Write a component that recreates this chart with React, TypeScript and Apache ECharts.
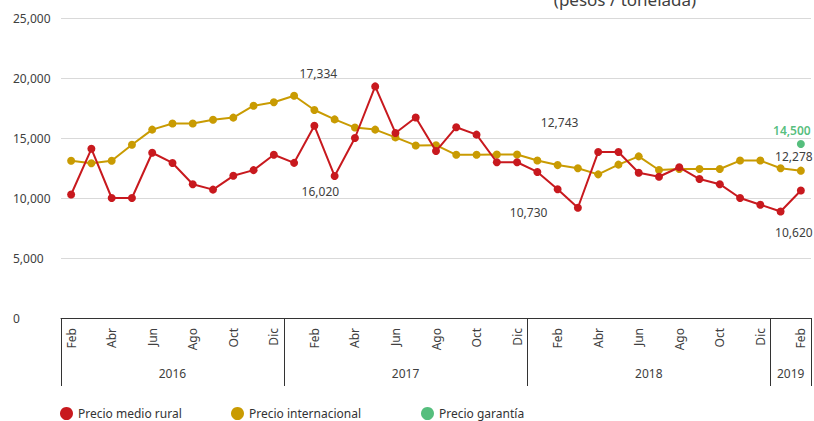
import React, { useEffect, useRef } from "react";
import * as echarts from "echarts";

// Feb 2016 .. Feb 2019
const categories: string[] = [
  "2016-Feb", "2016-Mar", "2016-Abr", "2016-May", "2016-Jun", "2016-Jul", "2016-Ago", "2016-Sep", "2016-Oct", "2016-Nov", "2016-Dic",
  "2017-Ene", "2017-Feb", "2017-Mar", "2017-Abr", "2017-May", "2017-Jun", "2017-Jul", "2017-Ago", "2017-Sep", "2017-Oct", "2017-Nov", "2017-Dic",
  "2018-Ene", "2018-Feb", "2018-Mar", "2018-Abr", "2018-May", "2018-Jun", "2018-Jul", "2018-Ago", "2018-Sep", "2018-Oct", "2018-Nov", "2018-Dic",
  "2019-Ene", "2019-Feb",
];

const years = ["2016", "2017", "2018", "2019"];

const precioMedioRural: number[] = [
  10290, 14100, 10000, 10000, 13770, 12920, 11150, 10700, 11850, 12320, 13600,
  12930, 16020, 11830, 15000, 19300, 15420, 16710, 13910, 15900, 15280, 12980, 12980,
  12170, 10730, 9190, 13830, 13830, 12100, 11770, 12560, 11580, 11150, 10000, 9440,
  8880, 10620,
];

const precioInternacional: number[] = [
  13100, 12900, 13100, 14440, 15700, 16210, 16210, 16520, 16700, 17690, 17980,
  18520, 17334, 16550, 15870, 15700, 15050, 14380, 14400, 13600, 13600, 13620, 13620,
  13120, 12743, 12480, 11970, 12780, 13470, 12330, 12420, 12420, 12420, 13120, 13120,
  12480, 12278,
];

const precioGarantia: (number | null)[] = categories.map((c) => (c === "2019-Feb" ? 14500 : null));

const yTicks = { min: 0, max: 25000, interval: 5000 };

const RED = "#C8191E";
const YELLOW = "#C99B02";
const GREEN = "#2BAE5C";
const TEXT = "#404040";
const FONT = "'Noto Sans', sans-serif";

const fmt = (v: number) => v.toLocaleString("en-US");

type LabelSpec = { cat: string; offset: [number, number] };
const redLabels: LabelSpec[] = [
  { cat: "2017-Feb", offset: [6, 66] },
  { cat: "2018-Feb", offset: [-29, 23] },
  { cat: "2019-Feb", offset: [-7, 42] },
];
const yellowLabels: LabelSpec[] = [
  { cat: "2017-Feb", offset: [4, -36] },
  { cat: "2018-Feb", offset: [2, -43] },
  { cat: "2019-Feb", offset: [-7, -14] },
];

function withLabels(values: number[], specs: LabelSpec[], color: string) {
  return values.map((v, i) => {
    const spec = specs.find((s) => s.cat === categories[i]);
    if (!spec) return v;
    return {
      value: v,
      label: {
        show: true,
        position: "inside",
        offset: spec.offset,
        formatter: (p: any) => fmt(p.value),
        color,
        fontSize: 12,
        fontFamily: FONT,
      },
    };
  });
}

export default function App() {
  const ref = useRef<HTMLDivElement>(null);

  useEffect(() => {
    if (!ref.current) return;
    const chart = echarts.init(ref.current, undefined, { renderer: "svg" });

    const yearStart = (i: number) => i === 0 || categories[i].slice(0, 4) !== categories[i - 1].slice(0, 4);

    const legendBase = {
      top: 407,
      padding: 0,
      icon: "circle",
      itemWidth: 13,
      itemHeight: 13,
      itemGap: 4,
      textStyle: { color: "#333", fontSize: 12, fontFamily: FONT },
    };

    const option: any = {
      animation: false,
      textStyle: { fontFamily: FONT },
      grid: { left: 61, right: 3, top: 18, bottom: 103, containLabel: false },
      legend: [
        { ...legendBase, left: 60, data: ["Precio medio rural"] },
        { ...legendBase, left: 231, data: ["Precio internacional"] },
        { ...legendBase, left: 421, data: ["Precio garantía"] },
      ],
      xAxis: {
        type: "category",
        data: categories,
        boundaryGap: true,
        axisLine: { show: true, lineStyle: { color: "#333", width: 1 } },
        axisTick: {
          show: true,
          interval: (i: number) => yearStart(i),
          length: 68,
          lineStyle: { color: "#333", width: 1 },
        },
        axisLabel: {
          interval: 1,
          rotate: 90,
          margin: 10,
          color: TEXT,
          fontSize: 12,
          fontFamily: FONT,
          formatter: (v: string) => v.slice(5),
        },
        splitLine: { show: false },
      },
      yAxis: {
        type: "value",
        min: yTicks.min,
        max: yTicks.max,
        interval: yTicks.interval,
        axisLine: { show: false },
        axisTick: { show: false },
        axisLabel: {
          align: "left",
          margin: 48,
          color: TEXT,
          fontSize: 12,
          fontFamily: FONT,
          formatter: (v: number) => fmt(v),
        },
        splitLine: { lineStyle: { color: "#d9d9d9", width: 1 } },
      },
      series: [
        {
          name: "Precio medio rural",
          type: "line",
          data: withLabels(precioMedioRural, redLabels, TEXT),
          symbol: "circle",
          symbolSize: 8,
          itemStyle: { color: RED },
          lineStyle: { color: RED, width: 2 },
          z: 3,
        },
        {
          name: "Precio internacional",
          type: "line",
          data: withLabels(precioInternacional, yellowLabels, TEXT),
          symbol: "circle",
          symbolSize: 8,
          itemStyle: { color: YELLOW },
          lineStyle: { color: YELLOW, width: 2 },
          z: 2,
        },
        {
          name: "Precio garantía",
          type: "scatter",
          data: precioGarantia,
          symbol: "circle",
          symbolSize: 8,
          itemStyle: { color: GREEN },
          label: {
            show: true,
            position: "inside",
            offset: [-9, -14],
            formatter: (p: any) => fmt(p.value),
            color: GREEN,
            fontSize: 12,
            fontWeight: 600,
            fontFamily: FONT,
          },
        },
      ],
    };

    chart.setOption(option);

    // Year labels and title placed via axis scales
    const px = (c: string) => chart.convertToPixel({ xAxisIndex: 0 }, c) as number;
    const bw = px(categories[1]) - px(categories[0]);
    const axisY = chart.convertToPixel({ yAxisIndex: 0 }, 0) as number;
    const graphics: any[] = years.map((y) => {
      const idx = categories.map((c, i) => (c.startsWith(y) ? i : -1)).filter((i) => i >= 0);
      const x0 = px(categories[idx[0]]) - bw / 2;
      const x1 = px(categories[idx[idx.length - 1]]) + bw / 2;
      return {
        type: "text",
        x: (x0 + x1) / 2,
        y: axisY + 55,
        style: {
          text: y,
          align: "center",
          verticalAlign: "middle",
          fill: TEXT,
          fontSize: 12,
          fontFamily: FONT,
        },
      };
    });
    graphics.push({
      type: "text",
      x: 625,
      y: 8,
      style: {
        text: "(pesos / tonelada)",
        align: "center",
        verticalAlign: "bottom",
        fill: TEXT,
        fontSize: 17,
        fontFamily: FONT,
      },
    });
    chart.setOption({ graphic: graphics });

    return () => chart.dispose();
  }, []);

  return <div ref={ref} style={{ width: 814, height: 421, position: "absolute", left: 0, top: 0 }} />;
}
